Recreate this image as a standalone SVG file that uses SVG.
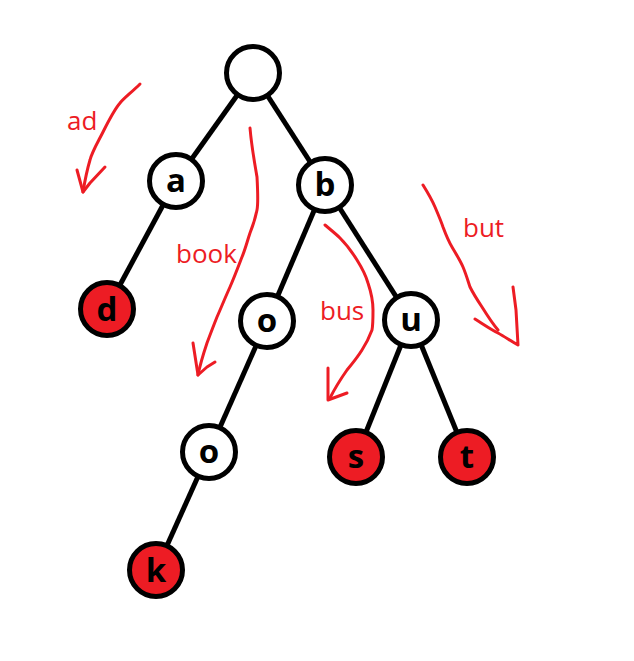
<svg xmlns="http://www.w3.org/2000/svg" width="634" height="661" viewBox="0 0 634 661">
<style>
.edge{stroke:#000;stroke-width:5;fill:none}
.n circle{stroke:#000;stroke-width:5;fill:#fff}
.n.hit circle{fill:#ed1c24}
.n text{font-family:"Open Sans","DejaVu Sans",sans-serif;font-weight:bold;font-size:33px;fill:#000;text-anchor:middle}
.arrow{stroke:#ed1c24;stroke-width:3;fill:none;stroke-linecap:round;stroke-linejoin:round}
.lbl{font-family:"Open Sans","Liberation Sans",sans-serif;font-size:26px;fill:#ed1c24}
</style>
<rect width="634" height="661" fill="#fff"/>
<g id="connectors">
<line class="edge" x1="253" y1="73" x2="176" y2="181"/>
<line class="edge" x1="253" y1="73" x2="325" y2="185"/>
<line class="edge" x1="176" y1="181" x2="107" y2="309"/>
<line class="edge" x1="325" y1="185" x2="267" y2="321"/>
<line class="edge" x1="325" y1="185" x2="411" y2="320"/>
<line class="edge" x1="267" y1="321" x2="209" y2="452"/>
<line class="edge" x1="209" y1="452" x2="156" y2="570"/>
<line class="edge" x1="411" y1="320" x2="356" y2="457"/>
<line class="edge" x1="411" y1="320" x2="467" y2="457"/>
</g>
<g id="root" class="n"><circle cx="253" cy="73" r="26.5"/></g>
<g id="node-a" class="n"><circle cx="176" cy="181" r="26.5"/><text x="176" y="192">a</text></g>
<g id="node-b" class="n"><circle cx="325" cy="185" r="26.5"/><text x="325" y="196">b</text></g>
<g id="node-d" class="n hit"><circle cx="107" cy="309" r="26.5"/><text x="107" y="321">d</text></g>
<g id="node-o1" class="n"><circle cx="267" cy="321" r="26.5"/><text x="267" y="332">o</text></g>
<g id="node-u" class="n"><circle cx="411" cy="320" r="26.5"/><text x="411" y="331">u</text></g>
<g id="node-o2" class="n"><circle cx="209" cy="452" r="26.5"/><text x="209" y="463">o</text></g>
<g id="node-s" class="n hit"><circle cx="356" cy="457" r="26.5"/><text x="356" y="468">s</text></g>
<g id="node-t" class="n hit"><circle cx="467" cy="457" r="26.5"/><text x="467" y="468">t</text></g>
<g id="node-k" class="n hit"><circle cx="156" cy="570" r="26.5"/><text x="156" y="582">k</text></g>
<g id="annotations">
<path class="arrow" d="M140,84 C132,92 124,98 120,103 C114,110 108,122 103,132 C98,142 92,152 90,160 C87,170 85,180 83,192"/>
<path class="arrow" d="M77,170 L83,192 L90,183 L105,167"/>
<text class="lbl" x="67" y="130">ad</text>
<path class="arrow" d="M250,128 C251,140 254,160 257,177 C258,195 258,205 257,210 C255,220 252,228 250,233 C247,242 245,250 242,257 C237,270 234,278 230,287 C225,298 221,308 217,317 C213,327 210,335 207,343 C203,355 200,365 198,375"/>
<path class="arrow" d="M193,343 L198,375 L207,367 L215,362"/>
<text class="lbl" x="176" y="263">book</text>
<path class="arrow" d="M325,225 C331,230 336,234 340,238 C347,245 352,252 357,260 C362,268 366,276 368,283 C371,292 373,302 373,310 C373,318 373,325 372,330 C369,338 366,344 362,350 C357,358 352,364 347,370 C340,380 334,390 330,398"/>
<path class="arrow" d="M328,368 L328,400 L347,393"/>
<text class="lbl" x="320" y="320">bus</text>
<path class="arrow" d="M423,185 C428,193 432,200 435,207 C438,214 441,221 443,227 C446,235 449,242 452,247 C456,254 460,260 463,267 C466,274 468,281 470,287 C474,295 478,301 482,307 C487,315 492,323 498,330"/>
<path class="arrow" d="M475,319 C483,324 490,329 498,333 C505,337 511,341 518,345 L516,310 L513,287"/>
<text class="lbl" x="463" y="237">but</text>
</g>
</svg>
